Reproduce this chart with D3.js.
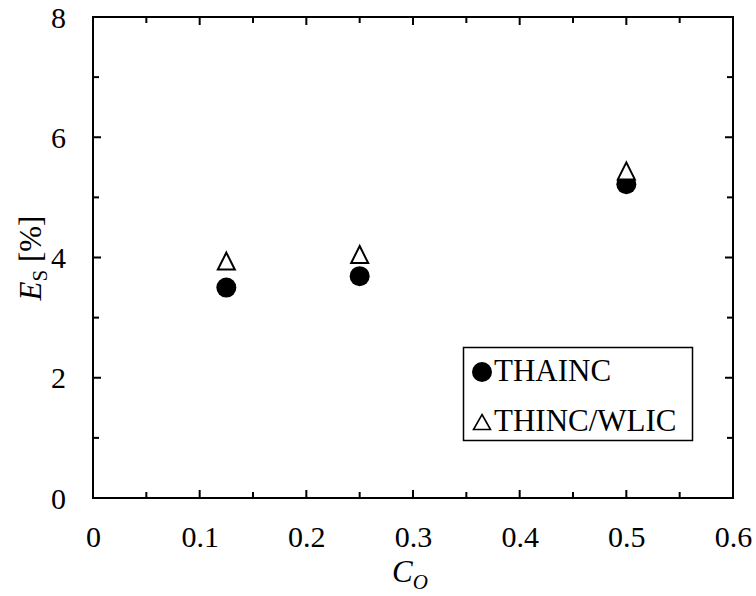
<!DOCTYPE html>
<html><head><meta charset="utf-8">
<script src="https://cdn.jsdelivr.net/npm/d3@7"></script>
<style>body{margin:0;background:#fff}</style>
</head><body>
<svg id="c" width="756" height="596"></svg>
<script>
const coValues = [0.125, 0.25, 0.5];
const thaincValues = [3.50, 3.69, 5.22];
const thincWlicValues = [3.94, 4.05, 5.44];
const xTickValues = [0, 0.1, 0.2, 0.3, 0.4, 0.5, 0.6];
const yTickValues = [0, 2, 4, 6, 8];
const seriesNames = ["THAINC", "THINC/WLIC"];

const FONT = "Liberation Serif";
const svg = d3.select("#c");
const m = {l: 93, t: 17, r: 733, b: 498};
const x = d3.scaleLinear().domain([0, 0.6]).range([m.l, m.r]);
const y = d3.scaleLinear().domain([0, 8]).range([m.b, m.t]);

// frame
svg.append("rect").attr("x", m.l).attr("y", m.t).attr("width", m.r - m.l).attr("height", m.b - m.t)
  .attr("fill", "none").attr("stroke", "#000").attr("stroke-width", 2);

const xMinor = d3.range(0, 0.6001, 0.05);
const yMinor = d3.range(0, 8.001, 1);
const tk = svg.append("g").attr("stroke", "#000").attr("stroke-width", 2);
xMinor.forEach((v, i) => {
  const len = i % 2 === 0 ? 8 : 6;
  tk.append("line").attr("x1", x(v)).attr("x2", x(v)).attr("y1", m.b).attr("y2", m.b - len);
  tk.append("line").attr("x1", x(v)).attr("x2", x(v)).attr("y1", m.t).attr("y2", m.t + len);
});
yMinor.forEach((v, i) => {
  const len = i % 2 === 0 ? 8 : 6;
  tk.append("line").attr("y1", y(v)).attr("y2", y(v)).attr("x1", m.l).attr("x2", m.l + len);
  tk.append("line").attr("y1", y(v)).attr("y2", y(v)).attr("x1", m.r).attr("x2", m.r - len);
});

// tick labels via axes
const xAxis = svg.append("g").attr("transform", `translate(0,${m.b})`)
  .call(d3.axisBottom(x).tickValues(xTickValues).tickFormat(d => d === 0 ? "0" : d3.format(".1f")(d)).tickSize(0).tickPadding(27));
const yAxis = svg.append("g").attr("transform", `translate(${m.l},0)`)
  .call(d3.axisLeft(y).tickValues(yTickValues).tickFormat(d3.format("d")).tickSize(0).tickPadding(27));
[xAxis, yAxis].forEach(a => {
  a.attr("font-family", null).attr("font-size", null);
  a.select(".domain").remove();
  a.selectAll("text").style("font-family", FONT).style("font-size", "30px").style("fill", "#000");
});
yAxis.selectAll("text").attr("dy", "0.34em");
xAxis.selectAll("text").attr("dy", "0.72em");

// axis titles
const xt = svg.append("text").attr("x", 392).attr("y", 582)
  .style("font-family", FONT).style("font-size", "31px").style("font-style", "italic");
xt.append("tspan").text("C");
xt.append("tspan").attr("dy", 7).style("font-size", "21px").text("O");

const yt = svg.append("text").attr("transform", "translate(41,258) rotate(-90)")
  .attr("text-anchor", "middle").style("font-family", FONT).style("font-size", "31px");
yt.append("tspan").style("font-style", "italic").text("E");
yt.append("tspan").attr("dy", 6).style("font-size", "21px").text("S");
yt.append("tspan").attr("dy", -6).text(" [%]");

function tri(cx, cy, w, h) {
  return `M${cx},${cy - h / 2}L${cx + w / 2},${cy + h / 2}L${cx - w / 2},${cy + h / 2}Z`;
}

// data
const circ = coValues.map((c, i) => ({c, v: thaincValues[i]}));
const tris = coValues.map((c, i) => ({c, v: thincWlicValues[i]}));
svg.append("g").selectAll("circle").data(circ).join("circle")
  .attr("cx", d => x(d.c)).attr("cy", d => y(d.v)).attr("r", 10).attr("fill", "#000");
svg.append("g").selectAll("path").data(tris).join("path")
  .attr("d", d => tri(x(d.c), y(d.v), 17, 17)).attr("fill", "#fff").attr("stroke", "#000").attr("stroke-width", 2);

// legend
const lg = svg.append("g");
lg.append("rect").attr("x", 463.5).attr("y", 347.5).attr("width", 229).attr("height", 93)
  .attr("fill", "#fff").attr("stroke", "#000").attr("stroke-width", 1.5);
lg.append("circle").attr("cx", 482).attr("cy", 372).attr("r", 10).attr("fill", "#000");
lg.append("path").attr("d", tri(482, 422, 17, 15)).attr("fill", "#fff").attr("stroke", "#000").attr("stroke-width", 1.6);
lg.append("text").attr("x", 494).attr("y", 381).style("font-family", FONT).style("font-size", "31px").text(seriesNames[0]);
lg.append("text").attr("x", 494).attr("y", 431).style("font-family", FONT).style("font-size", "31px").text(seriesNames[1]);
</script>
</body></html>
